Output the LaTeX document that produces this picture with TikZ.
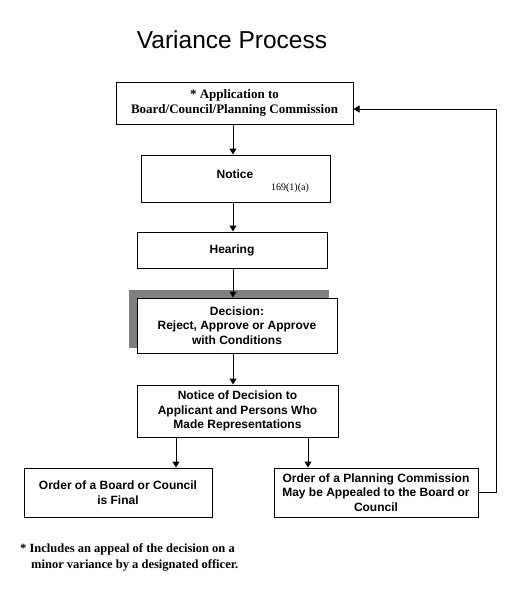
\documentclass[tikz,border=0pt]{standalone}
\usepackage{fontspec}
\setmainfont{Liberation Serif}
\setsansfont{Liberation Sans}
\usetikzlibrary{arrows.meta}
\begin{document}
\begin{tikzpicture}[x=1pt,y=-1pt,
  box/.style={draw=black,line width=1pt,fill=white,inner sep=0pt,align=center,
    font=\sffamily\bfseries\fontsize{12}{14.5}\selectfont},
  sbox/.style={box,font=\rmfamily\bfseries\fontsize{13}{15.5}\selectfont},
  arr/.style={line width=1pt,-{Triangle[width=7pt,length=6pt]}}]
\useasboundingbox (0,0) rectangle (520,600);
\node (title) at (232,40) {\sffamily\fontsize{24.5}{28}\selectfont Variance Process};
% shadow
\fill[fill={rgb,255:red,128;green,128;blue,128}] (129,290) rectangle (329,348);
\node[sbox,minimum width=237pt,minimum height=42pt] (b1) at (234.5,103)
  {* Application to\\Board/Council/Planning Commission};
\node[box,minimum width=189pt,minimum height=47pt] (b2) at (235.5,178.5) {};
\node[font=\sffamily\bfseries\fontsize{12}{14}\selectfont] (b2t) at (235,174) {Notice};
\node[font=\rmfamily\fontsize{10}{12}\selectfont] (b2c) at (290,188) {169(1)(a)};
\node[box,minimum width=190pt,minimum height=36pt] (b3) at (232,250) {Hearing};
\node[box,minimum width=200pt,minimum height=55pt] (b4) at (237,325.5)
  {Decision:\\Reject, Approve or Approve\\with Conditions};
\node[box,minimum width=201pt,minimum height=52pt] (b5) at (237.5,411)
  {Notice of Decision to\\Applicant and Persons Who\\Made Representations};
\node[box,minimum width=188pt,minimum height=49pt] (b6) at (118,492.5)
  {Order of a Board or Council\\is Final};
\node[box,minimum width=204pt,minimum height=49pt] (b7) at (376,492.5)
  {Order of a Planning Commission\\May be Appealed to the Board or\\Council};
\coordinate (ax) at (233,0);
\coordinate (lx) at (176,0);
\coordinate (rx) at (308,0);
\coordinate (fx) at (496,0);
\coordinate (fy) at (0,109);
\draw[arr] (b1.south -| ax) -- (b2.north -| ax);
\draw[arr] (b2.south -| ax) -- (b3.north -| ax);
\draw[arr] (b3.south -| ax) -- (b4.north -| ax);
\draw[arr] (b4.south -| ax) -- (b5.north -| ax);
\draw[arr] (b5.south -| lx) -- (b6.north -| lx);
\draw[arr] (b5.south -| rx) -- (b7.north -| rx);
\draw[arr] (b7.east) -| (fx |- fy) -- (b1.east |- fy);
\node[anchor=north west,inner sep=0pt,align=left,
  font=\rmfamily\bfseries\fontsize{12.5}{16.5}\selectfont] (foot) at (20,543)
  {* Includes an appeal of the decision on a\\\hspace*{11pt}minor variance by a designated officer.};
\end{tikzpicture}
\end{document}
